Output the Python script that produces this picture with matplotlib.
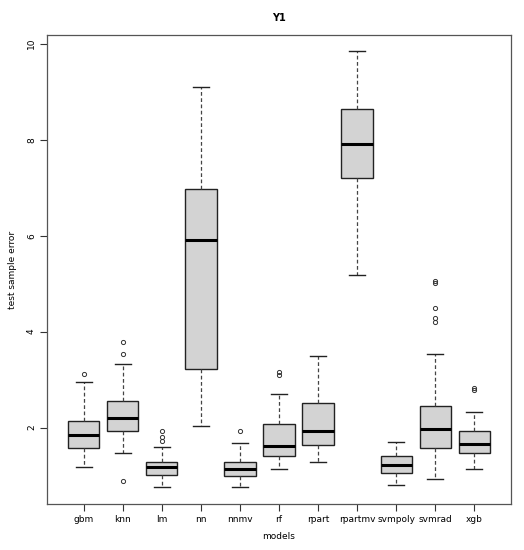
import matplotlib
matplotlib.use("Agg")
import matplotlib.pyplot as plt

models = ["gbm", "knn", "lm", "nn", "nnmv", "rf", "rpart", "rpartmv", "svmpoly", "svmrad", "xgb"]
whislo = [1.19, 1.48, 0.77, 2.04, 0.77, 1.14, 1.29, 5.19, 0.81, 0.93, 1.13]
q1 = [1.58, 1.93, 1.01, 3.23, 1.00, 1.40, 1.63, 7.21, 1.05, 1.58, 1.48]
med = [1.85, 2.20, 1.19, 5.91, 1.14, 1.62, 1.94, 7.91, 1.22, 1.97, 1.67]
q3 = [2.13, 2.55, 1.29, 6.97, 1.28, 2.07, 2.51, 8.64, 1.41, 2.45, 1.94]
whishi = [2.95, 3.33, 1.60, 9.10, 1.69, 2.71, 3.50, 9.84, 1.71, 3.54, 2.33]
outliers = [
    [3.11],
    [3.78, 3.54, 0.89],
    [1.94, 1.81, 1.73],
    [],
    [1.93],
    [3.16, 3.09],
    [],
    [],
    [],
    [5.05, 5.02, 4.49, 4.29, 4.20],
    [2.82, 2.79],
]

stats = []
for i in range(len(models)):
    stats.append({"label": models[i], "whislo": whislo[i], "q1": q1[i], "med": med[i],
                  "q3": q3[i], "whishi": whishi[i], "fliers": outliers[i]})

fig = plt.figure(figsize=(5.24, 5.5), dpi=100)
ax = fig.add_axes([47 / 524, 46 / 550, 464 / 524, 469 / 550])

ax.bxp(stats, positions=range(1, len(models) + 1), widths=0.8, patch_artist=True,
       boxprops=dict(facecolor="#d3d3d3", edgecolor="#222222", linewidth=1.0),
       medianprops=dict(color="black", linewidth=2.2),
       whiskerprops=dict(color="#444444", linestyle=(0, (3, 2)), linewidth=0.9),
       capprops=dict(color="#222222", linewidth=1.0),
       flierprops=dict(marker="o", markersize=3, markerfacecolor="none",
                       markeredgecolor="#333333", markeredgewidth=0.7))

ax.set_xlim(0.06, 11.94)
ax.set_ylim(0.41, 10.18)
ax.set_yticks([2, 4, 6, 8, 10])
ax.set_yticklabels(["2", "4", "6", "8", "10"], rotation=90, va="center")
ax.set_xticks(range(1, len(models) + 1))
ax.set_xticklabels(models)
ax.tick_params(axis="both", labelsize=6.5, length=5, width=0.8, color="#333333", pad=3)
for s in ax.spines.values():
    s.set_color("#555555")
    s.set_linewidth(0.9)

ax.set_title("Y1", fontsize=7, fontweight="bold", pad=10)
ax.set_xlabel("models", fontsize=6.5, labelpad=6)
ax.set_ylabel("test sample error", fontsize=6.5, labelpad=7)

fig.savefig("out.png", dpi=100)
